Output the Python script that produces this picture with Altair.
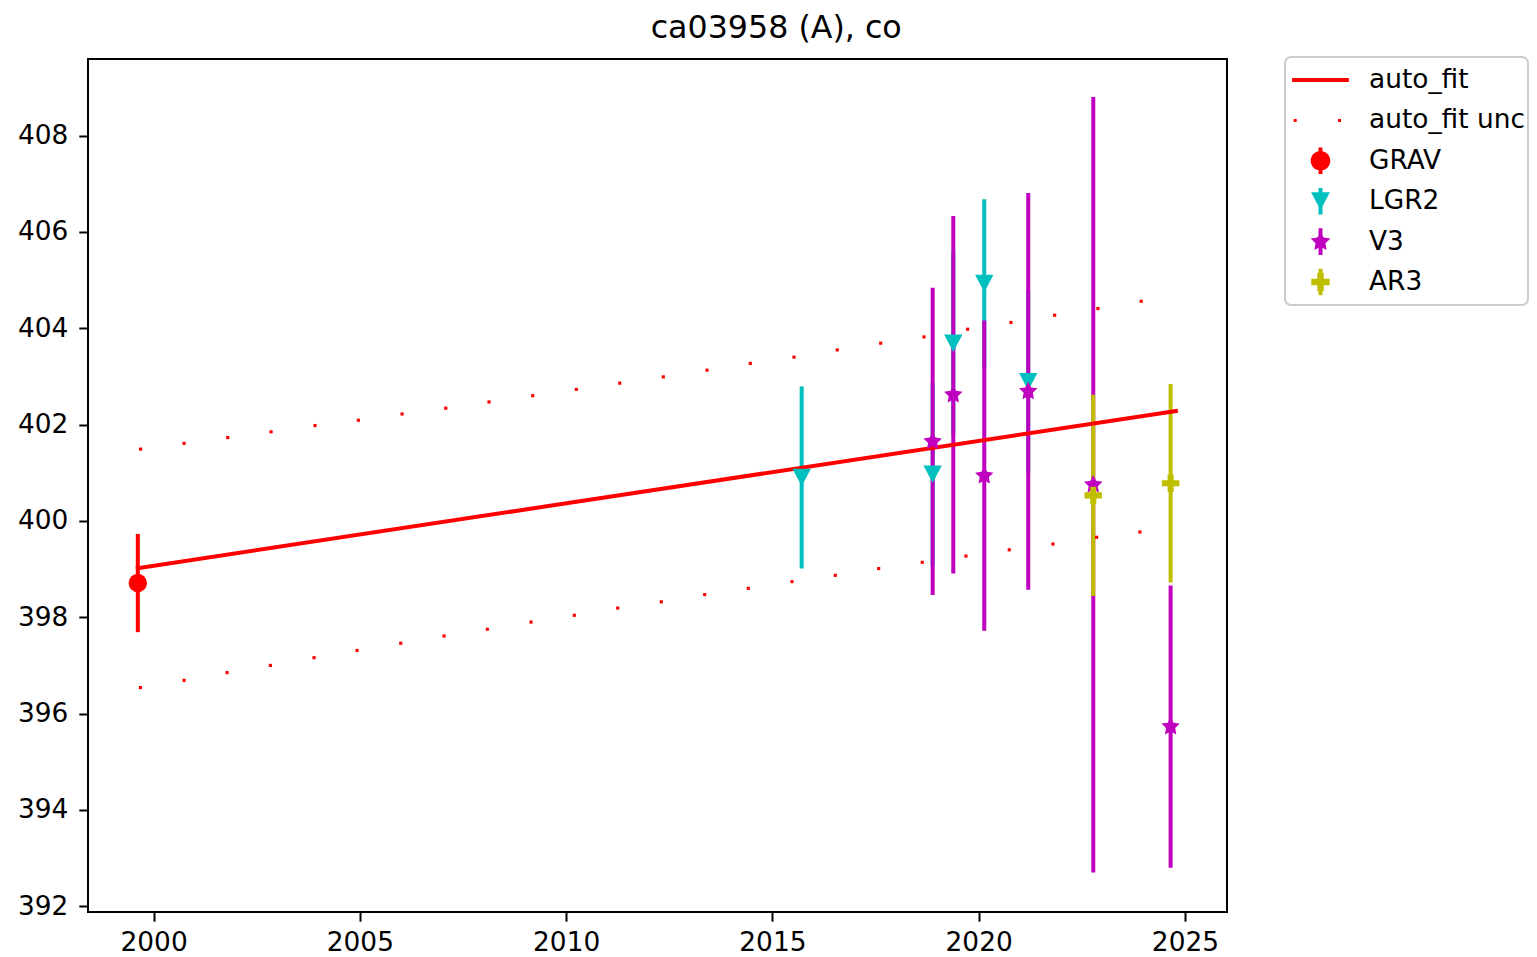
import math
import altair as alt
import pandas as pd

# ---------------- data ----------------
TITLE = "ca03958 (A), co"
X_TICKS = [2000, 2005, 2010, 2015, 2020, 2025]
Y_TICKS = [392, 394, 396, 398, 400, 402, 404, 406, 408]
X_DOMAIN = [1998.41, 2026.02]
Y_DOMAIN = [391.88, 409.59]

SERIES = ["auto_fit", "auto_fit unc", "GRAV", "LGR2", "V3", "AR3"]
COLORS = ["#ff0000", "#ff0000", "#ff0000", "#00bfbf", "#bf00bf", "#bfbf00"]

grav_x = [1999.617]
grav_y = [398.71]
grav_err = [1.02]

lgr2_x = [2015.71, 2018.885, 2019.385, 2020.136, 2021.202]
lgr2_y = [400.90, 400.97, 403.69, 404.93, 402.89]
lgr2_err = [1.89, 1.90, 1.90, 1.75, 1.90]

v3_x = [2018.885, 2019.385, 2020.136, 2021.202, 2022.778, 2024.653]
v3_y = [401.65, 402.62, 400.94, 402.69, 400.75, 395.73]
v3_err = [3.19, 3.71, 3.22, 4.12, 8.05, 2.93]

ar3_x = [2022.778, 2024.653]
ar3_y = [400.53, 400.78]
ar3_err = [2.09, 2.06]

fit_x = [1999.617, 2024.78]
fit_y = [399.02, 402.28]

unc_hi_x = [1999.685, 2000.739, 2001.798, 2002.848, 2003.914, 2004.964, 2006.023, 2007.082,
            2008.131, 2009.190, 2010.247, 2011.299, 2012.356, 2013.415, 2014.464, 2015.524,
            2016.573, 2017.625, 2018.674, 2019.733, 2020.783, 2021.842, 2022.891, 2023.941]
unc_hi_y = [401.49, 401.61, 401.73, 401.85, 401.98, 402.09, 402.22, 402.34,
            402.47, 402.60, 402.73, 402.86, 402.99, 403.13, 403.27, 403.40,
            403.55, 403.69, 403.82, 403.98, 404.12, 404.27, 404.41, 404.56]
unc_lo_x = [1999.680, 2000.739, 2001.781, 2002.831, 2003.890, 2004.932, 2005.991, 2007.041,
            2008.090, 2009.149, 2010.199, 2011.251, 2012.307, 2013.359, 2014.416, 2015.475,
            2016.524, 2017.576, 2018.633, 2019.692, 2020.742, 2021.801, 2022.860, 2023.909]
unc_lo_y = [396.54, 396.69, 396.85, 397.00, 397.16, 397.31, 397.46, 397.61,
            397.75, 397.90, 398.04, 398.19, 398.32, 398.47, 398.60, 398.74,
            398.87, 399.01, 399.14, 399.27, 399.40, 399.52, 399.66, 399.77]

COLOR_OF = dict(zip(SERIES, COLORS))

# ---------------- marker shapes (SVG paths in unit coords) ----------------
def poly(pts):
    return "M" + "L".join(f"{x:.4f},{y:.4f}" for x, y in pts) + "Z"

def star_pts(R, ratio):
    pts = []
    for k in range(10):
        a = math.radians(-90 + 36 * k)
        r = R if k % 2 == 0 else R * ratio
        pts.append((r * math.cos(a), r * math.sin(a)))
    return pts

def plus_pts(h, a):
    return [(-a, -h), (a, -h), (a, -a), (h, -a), (h, a), (a, a), (a, h), (-a, h),
            (-a, a), (-h, a), (-h, -a), (-a, -a)]

def tri_down(w, h):
    return [(-w, -h), (w, -h), (0, h)]

def circle(r):
    return f"M{-r},0A{r},{r} 0 1,1 {r},0A{r},{r} 0 1,1 {-r},0Z"

def rect(x0, y0, x1, y1):
    return poly([(x0, y0), (x1, y0), (x1, y1), (x0, y1)])

MARKER_SIZE = 338.6
TRI_PATH = poly(tri_down(1.0, 0.95))
STAR_PATH = poly(star_pts(1.05, 0.5))
PLUS_PATH = poly(plus_pts(0.95, 0.33))

LEG_SIZE = 1600
BOUNDS = "M-1.6,0L1.6,0M0,-1L0,1"
BAR = rect(-0.099, -0.665, 0.099, 0.665)
LEG_PATHS = [
    rect(-1.42, -0.099, 1.42, 0.099) + BOUNDS,
    rect(-1.34, -0.075, -1.19, 0.075) + rect(0.875, -0.075, 1.025, 0.075) + BOUNDS,
    circle(0.49) + BAR + BOUNDS,
    poly(tri_down(0.47, 0.45)) + BAR + BOUNDS,
    poly(star_pts(0.52, 0.5)) + BAR + BOUNDS,
    poly(plus_pts(0.46, 0.16)) + BAR + BOUNDS,
]

# ---------------- tables ----------------
groups = [("GRAV", grav_x, grav_y, grav_err), ("LGR2", lgr2_x, lgr2_y, lgr2_err),
          ("V3", v3_x, v3_y, v3_err), ("AR3", ar3_x, ar3_y, ar3_err)]
bar_rows = []
for name, gx, gy, ge in groups:
    for x, y, e in zip(gx, gy, ge):
        bar_rows.append({"x": x, "lo": y - e, "hi": y + e, "col": COLOR_OF[name]})
bars_df = pd.DataFrame(bar_rows)

xs = alt.Scale(domain=X_DOMAIN, nice=False, zero=False)
ys = alt.Scale(domain=Y_DOMAIN, nice=False, zero=False)
xax = alt.Axis(values=X_TICKS, format="d", title=None, labelPadding=8)
yax = alt.Axis(values=Y_TICKS, format="d", title=None, labelPadding=11)

def X():
    return alt.X("x:Q", scale=xs, axis=xax)

def Y(f="y"):
    return alt.Y(f"{f}:Q", scale=ys, axis=yax)

bars = alt.Chart(bars_df).mark_rule(strokeWidth=4, strokeCap="butt").encode(
    x=X(), y=Y("lo"), y2="hi:Q", color=alt.Color("col:N", scale=None)
)

fit = alt.Chart(pd.DataFrame({"x": fit_x, "y": fit_y})).mark_line(
    color=COLOR_OF["auto_fit"], strokeWidth=4, strokeCap="square"
).encode(x=X(), y=Y())

unc_hi = alt.Chart(pd.DataFrame({"x": unc_hi_x, "y": unc_hi_y})).mark_square(
    color=COLOR_OF["auto_fit unc"], size=10, opacity=1
).encode(x=X(), y=Y())
unc_lo = alt.Chart(pd.DataFrame({"x": unc_lo_x, "y": unc_lo_y})).mark_square(
    color=COLOR_OF["auto_fit unc"], size=10, opacity=1
).encode(x=X(), y=Y())

def markers(name, gx, gy, shape):
    return alt.Chart(pd.DataFrame({"x": gx, "y": gy})).mark_point(
        filled=True, shape=shape, size=MARKER_SIZE, color=COLOR_OF[name], opacity=1
    ).encode(x=X(), y=Y())

m_grav = markers("GRAV", grav_x, grav_y, "circle")
m_lgr2 = markers("LGR2", lgr2_x, lgr2_y, TRI_PATH)
m_v3 = markers("V3", v3_x, v3_y, STAR_PATH)
m_ar3 = markers("AR3", ar3_x, ar3_y, PLUS_PATH)

legend = alt.Legend(
    title=None, orient="none", legendX=1197, legendY=-2, direction="vertical",
    labelFont="DejaVu Sans", labelFontSize=26.4, labelColor="black", labelLimit=400,
    labelOffset=28.5, symbolOffset=12.5, rowPadding=0.4, padding=3,
    strokeColor="#cccccc", cornerRadius=6, fillColor="white",
    symbolSize=LEG_SIZE, symbolStrokeWidth=0, symbolOpacity=1,
)
legend_layer = alt.Chart(pd.DataFrame({"series": SERIES})).mark_point(
    filled=True, size=LEG_SIZE
).encode(
    color=alt.Color("series:N", scale=alt.Scale(domain=SERIES, range=COLORS), legend=legend),
    shape=alt.Shape("series:N", scale=alt.Scale(domain=SERIES, range=LEG_PATHS), legend=legend),
    opacity=alt.value(0),
)

chart = alt.layer(
    bars, fit, unc_hi, unc_lo, m_grav, m_lgr2, m_v3, m_ar3, legend_layer
).properties(
    width=1139,
    height=853,
    padding={"left": 80, "top": 51, "right": 302, "bottom": 45},
    autosize=alt.AutoSizeParams(type="none"),
    background="white",
    title=alt.TitleParams(
        TITLE, font="DejaVu Sans", fontSize=31.7, fontWeight="normal", color="black",
        anchor="middle", frame="group", dx=118.7, offset=11,
    ),
).configure_view(
    stroke="black", strokeWidth=2
).configure_axis(
    labelFont="DejaVu Sans", labelFontSize=26.4, labelColor="black",
    tickColor="black", tickWidth=2, tickSize=9.2, grid=False, domain=False,
).configure_legend(
    strokeWidth=2
)

chart.save("out.html", embed_options={"renderer": "svg", "actions": False})
